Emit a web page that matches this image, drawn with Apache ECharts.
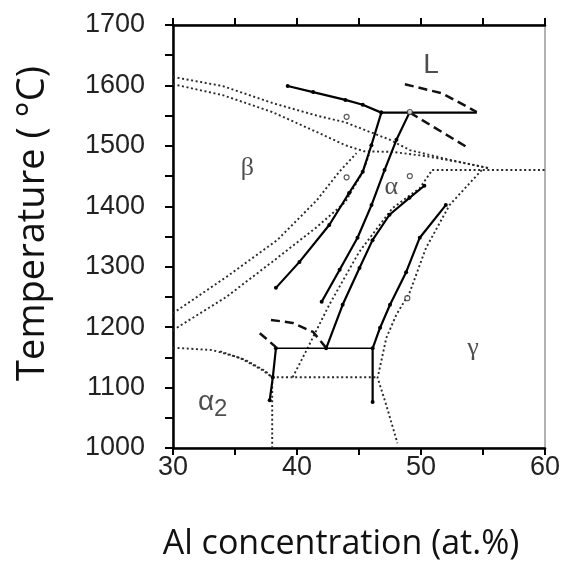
<!DOCTYPE html>
<html>
<head>
<meta charset="utf-8">
<script src="https://cdn.jsdelivr.net/npm/echarts@6/dist/echarts.min.js"></script>
<style>
  html, body { margin: 0; padding: 0; background: #fff; }
  #chart { width: 563px; height: 564px; }
</style>
</head>
<body>
<div id="chart"></div>
<script>
// [Al at.%, temperature °C] for every boundary
const dottedLiqUpper = [[30, 1614], [34.0, 1599], [38.0, 1571], [41.8, 1549], [43.9, 1539], [45.0, 1530], [47.5, 1510], [49.1, 1493], [52.3, 1477], [55.5, 1463]];
const dottedLiqLower = [[30, 1602], [34.0, 1584], [38.0, 1556], [41.8, 1521], [43.9, 1501], [45.4, 1491], [47.7, 1490], [50.4, 1483], [53.1, 1473], [55.5, 1463]];
const dottedBetaUpper = [[30, 1223], [34.3, 1283], [38.4, 1344], [41.6, 1410], [43.4, 1457], [44.8, 1488]];
const dottedBetaLower = [[30, 1195], [34.3, 1250], [38.0, 1308], [41.5, 1364], [43.9, 1407], [45.3, 1457], [45.8, 1485]];
const dottedAlphaRight = [[39.65, 1117], [40.7, 1159], [42.6, 1237], [45.0, 1324], [47.7, 1397], [49.9, 1430], [50.9, 1460]];
const dottedPeritectic = [[50.9, 1460], [60, 1460]];
const dottedGamma = [[54.9, 1460], [52.3, 1402], [50.4, 1331], [49.1, 1258], [48.0, 1220], [47.2, 1182], [46.5, 1116], [47.2, 1071], [48.1, 1008]];
const dottedEutectoid = [[38.0, 1117], [46.5, 1117]];
const dottedAlpha2 = [[30, 1166], [33.2, 1162], [35.4, 1149], [37.2, 1129], [38.0, 1117]];
const dottedAlpha2b = [[33.8, 1160], [35.8, 1146], [37.4, 1128], [38.0, 1117]];
const dottedAlpha2Vert = [[38.0, 1117], [38.0, 1000]];

const solidBetaLiq = [[39.25, 1599], [41.3, 1589], [43.9, 1576], [45.3, 1568], [46.8, 1555]];
const solidPeritectic = [[46.8, 1555], [54.5, 1555]];
const solidBetaTransus = [[38.3, 1265], [40.2, 1308], [42.6, 1369], [44.2, 1422], [45.3, 1457], [46.0, 1501], [46.8, 1555]];
const solidAlphaLeft = [[41.99, 1242], [43.44, 1295], [44.88, 1348], [46.01, 1402], [47.06, 1460], [48.02, 1510], [49.07, 1555]];
const solidAlphaRight = [[42.35, 1165], [43.68, 1237], [45.04, 1298], [46.09, 1344], [47.46, 1386], [49.07, 1414], [50.27, 1434]];
const solidGamma = [[52.0, 1402], [49.9, 1348], [48.8, 1291], [47.5, 1237], [46.7, 1199], [46.1, 1165], [46.1, 1076]];
const solidEutectoid = [[38.3, 1165], [46.1, 1165]];
const solidAlpha2 = [[38.3, 1165], [38.05, 1117], [37.8, 1079]];

const dashedLiquidus = [[48.7, 1602], [51.7, 1587], [54.5, 1556]];
const dashedSolidus = [[49.1, 1555], [51.2, 1529], [53.7, 1498]];
const dashedLow1 = [[37.9, 1212], [39.65, 1207], [41.3, 1192], [42.3, 1167]];
const dashedLow2 = [[37.0, 1190], [38.3, 1167]];

const openPoints = [[44.0, 1548], [44.0, 1448], [49.1, 1556], [48.9, 1248], [49.1, 1450]];

const phaseLabels = [
  [50.8, 1634, "L"],
  [36.0, 1463, "β"],
  [47.6, 1432, "α"],
  [54.2, 1166, "γ"],
  [33.2, 1076, "α2"]
];

const xTicks = [30, 40, 50, 60];
const yTicks = [1000, 1100, 1200, 1300, 1400, 1500, 1600, 1700];

const chart = echarts.init(document.getElementById("chart"));

const dotted = (data) => ({
  type: "line", data, showSymbol: false, silent: true, z: 3,
  lineStyle: { color: "#2a2a2a", width: 1.9, type: [2, 2.6] }
});
const solid = (data, dots) => ({
  type: "line", data, silent: true, z: 4,
  showSymbol: !!dots, symbol: "circle", symbolSize: 4,
  itemStyle: { color: "#000" },
  lineStyle: { color: "#000", width: 2.2, type: "solid" }
});
const dashed = (data) => ({
  type: "line", data, showSymbol: false, silent: true, z: 4,
  lineStyle: { color: "#111", width: 2.5, type: [9, 5] }
});

const option = {
  animation: false,
  grid: {
    left: 173, right: 18, top: 25, bottom: 116,
    outerBoundsMode: "none", containLabel: false,
    show: true, borderColor: "#666", borderWidth: 1
  },
  xAxis: [
    {
      type: "value", min: 30, max: 60, interval: 5,
      name: "Al concentration (at.%)",
      nameLocation: "middle", nameGap: 79,
      nameTextStyle: { fontFamily: "Open Sans", fontSize: 34, color: "#111", padding: [0, 36, 0, 0] },
      axisLine: { show: true, onZero: false, lineStyle: { color: "#000", width: 2.5 } },
      axisTick: { show: true, length: 7, lineStyle: { color: "#000", width: 2 } },
      axisLabel: {
        margin: 6, fontFamily: "Liberation Sans", fontSize: 27, color: "#222",
        formatter: (v) => (xTicks.includes(v) ? String(v) : "")
      },
      splitLine: { show: false }
    },
    {
      type: "value", min: 30, max: 60, interval: 5, position: "top",
      axisLine: { show: true, onZero: false, lineStyle: { color: "#000", width: 2.5 } },
      axisTick: { show: true, length: 7, lineStyle: { color: "#000", width: 2 } },
      axisLabel: { show: false },
      splitLine: { show: false }
    }
  ],
  yAxis: {
    type: "value", min: 1000, max: 1700, interval: 50,
    name: "Temperature ( °C)",
    nameLocation: "middle", nameGap: 121, nameRotate: 90,
    nameTextStyle: { fontFamily: "Open Sans", fontSize: 38, color: "#111", padding: [0, 0, 0, 26] },
    axisLine: { show: true, onZero: false, lineStyle: { color: "#000", width: 2.5 } },
    axisTick: { show: true, length: 8, lineStyle: { color: "#000", width: 2 } },
    axisLabel: {
      margin: 28, fontFamily: "Liberation Sans", fontSize: 27, color: "#222",
      formatter: (v) => (yTicks.includes(v) ? String(v) : "")
    },
    splitLine: { show: false }
  },
  series: [
    dotted(dottedLiqUpper),
    dotted(dottedLiqLower),
    dotted(dottedBetaUpper),
    dotted(dottedBetaLower),
    dotted(dottedAlphaRight),
    dotted(dottedPeritectic),
    dotted(dottedGamma),
    dotted(dottedEutectoid),
    dotted(dottedAlpha2),
    dotted(dottedAlpha2b),
    dotted(dottedAlpha2Vert),
    solid(solidBetaLiq, true),
    solid(solidPeritectic, false),
    solid(solidBetaTransus, true),
    solid(solidAlphaLeft, true),
    solid(solidAlphaRight, true),
    solid(solidGamma, true),
    { ...solid(solidEutectoid, false), lineStyle: { color: "#000", width: 1.6 } },
    solid(solidAlpha2, true),
    dashed(dashedLiquidus),
    dashed(dashedSolidus),
    dashed(dashedLow1),
    dashed(dashedLow2),
    {
      type: "scatter", data: openPoints, symbol: "circle", symbolSize: 5, silent: true, z: 5,
      itemStyle: { color: "#fff", borderColor: "#333", borderWidth: 1.2 }
    },
    {
      type: "scatter", symbolSize: 0, silent: true, z: 6,
      data: phaseLabels.map((d) => ({ value: [d[0], d[1]], name: d[2] })),
      label: {
        show: true, position: "inside",
        formatter: (p) => (p.name === "α2" ? "{a|α}{s|2}" : p.name === "L" ? "{l|L}" : "{g|" + p.name + "}"),
        rich: {
          a: { fontFamily: "Liberation Sans", fontSize: 28, color: "#222" },
          s: { fontFamily: "Liberation Sans", fontSize: 24, color: "#222", verticalAlign: "bottom", padding: [14, 0, 0, 0] },
          l: { fontFamily: "Liberation Sans", fontSize: 28, color: "#222" },
          g: { fontFamily: "Liberation Serif", fontSize: 26, color: "#222" }
        }
      }
    }
  ]
};

chart.setOption(option);
window.addEventListener("resize", () => chart.resize());
</script>
</body>
</html>
